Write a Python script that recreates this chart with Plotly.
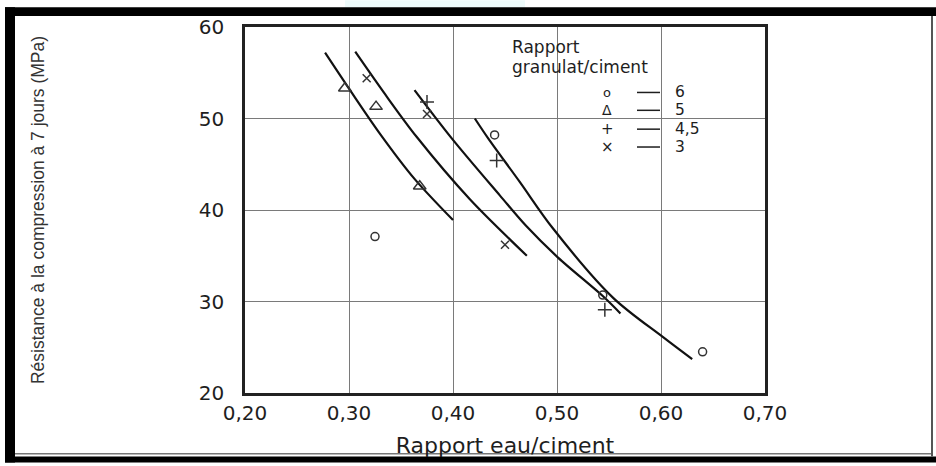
import plotly.graph_objects as go

# ---- data ----
x_ticks = [0.20, 0.30, 0.40, 0.50, 0.60, 0.70]
x_tick_text = ["0,20", "0,30", "0,40", "0,50", "0,60", "0,70"]
y_ticks = [20, 30, 40, 50, 60]
y_tick_text = ["20", "30", "40", "50", "60"]

# fitted curves (one per aggregate/cement ratio)
curve6_x = [0.421, 0.434, 0.464, 0.496, 0.554, 0.602, 0.630]
curve6_y = [50.0, 47.8, 43.1, 38.0, 30.4, 26.1, 23.7]
curve5_x = [0.277, 0.301, 0.330, 0.363, 0.400]
curve5_y = [57.2, 53.1, 48.3, 43.4, 38.9]
curve45_x = [0.363, 0.399, 0.445, 0.470, 0.501, 0.544, 0.561]
curve45_y = [53.1, 47.8, 41.6, 38.3, 34.8, 30.6, 28.7]
curve3_x = [0.306, 0.335, 0.365, 0.416, 0.471]
curve3_y = [57.3, 52.6, 48.0, 41.2, 35.0]

# measured points
pts6_x = [0.325, 0.440, 0.544, 0.640]
pts6_y = [37.1, 48.2, 30.7, 24.5]
pts5_x = [0.296, 0.326, 0.368]
pts5_y = [53.3, 51.3, 42.6]
pts45_x = [0.375, 0.442, 0.546]
pts45_y = [51.8, 45.4, 29.1]
pts3_x = [0.317, 0.375, 0.450]
pts3_y = [54.4, 50.5, 36.2]

legend_title = ["Rapport", "granulat/ciment"]
legend_symbols = ["o", "\u0394", "+", "\u00d7"]
legend_labels = ["6", "5", "4,5", "3"]

# ---- layout geometry (pixels of the 936x466 page) ----
W, H = 936, 466
L, R, T, B = 245, 171, 27, 70
PW, PH = W - L - R, H - T - B


def px(x):
    return (x - L) / PW


def py(y):
    return (H - B - y) / PH


FONT = "DejaVu Sans"
INK = "#1e1e1e"

fig = go.Figure()

for cx, cy in [(curve6_x, curve6_y), (curve5_x, curve5_y),
               (curve45_x, curve45_y), (curve3_x, curve3_y)]:
    fig.add_trace(go.Scatter(x=cx, y=cy, mode="lines",
                             line=dict(color="#111111", width=2.2, shape="spline", smoothing=0.9),
                             showlegend=False, hoverinfo="skip"))

marker_specs = [
    (pts6_x, pts6_y, "circle-open", 8),
    (pts5_x, pts5_y, "triangle-up-open", 11),
    (pts45_x, pts45_y, "cross-thin-open", 10),
    (pts3_x, pts3_y, "x-thin-open", 8),
]
for mx, my, sym, size in marker_specs:
    fig.add_trace(go.Scatter(x=mx, y=my, mode="markers",
                             marker=dict(symbol=sym, size=size, color="#333333",
                                         line=dict(color="#333333", width=1.5)),
                             showlegend=False))

shapes = []
# white patches behind the legend (interrupting the grid)
shapes.append(dict(type="rect", xref="paper", yref="paper", layer="between",
                   x0=px(505), x1=px(712), y0=py(80), y1=py(35),
                   fillcolor="white", line=dict(width=0)))
shapes.append(dict(type="rect", xref="paper", yref="paper", layer="between",
                   x0=px(587), x1=px(727), y0=py(163), y1=py(79),
                   fillcolor="white", line=dict(width=0)))
# scanned page frame
frame = [
    (345, 525, 0, 7, "#eefbfb"),
    (5, 936, 7, 16, "#000000"),
    (5, 15, 7, 466, "#000000"),
    (5, 936, 460, 466, "#000000"),
    (15, 932, 456.5, 458, "#777777"),
    (931, 933, 16, 460, "#555555"),
]
for x0, x1, y0, y1, col in frame:
    shapes.append(dict(type="rect", xref="paper", yref="paper", layer="above",
                       x0=px(x0), x1=px(x1), y0=py(y1), y1=py(y0),
                       fillcolor=col, line=dict(width=0)))

annotations = []
for i, txt in enumerate(legend_title):
    annotations.append(dict(xref="paper", yref="paper", x=px(511), y=py([47, 67][i]),
                            xanchor="left", yanchor="middle", showarrow=False, text=txt,
                            borderpad=0,
                            font=dict(family=FONT, size=17, color=INK)))
row_y = [93, 111, 130, 148]
sym_size = [13, 14, 15, 15]
for i in range(len(legend_labels)):
    annotations.append(dict(xref="paper", yref="paper", x=px(607), y=py(row_y[i]),
                            xanchor="center", yanchor="middle", showarrow=False,
                            text=legend_symbols[i], borderpad=0,
                            font=dict(family=FONT, size=sym_size[i], color=INK)))
    shapes.append(dict(type="line", xref="paper", yref="paper", layer="above",
                       x0=px(637), x1=px(660), y0=py(row_y[i]), y1=py(row_y[i]),
                       line=dict(color=INK, width=1.5)))
    annotations.append(dict(xref="paper", yref="paper", x=px(674), y=py(row_y[i]),
                            xanchor="left", yanchor="middle", showarrow=False,
                            text=legend_labels[i], borderpad=0,
                            font=dict(family=FONT, size=15.5, color=INK)))

fig.update_layout(
    width=W, height=H,
    margin=dict(l=L, r=R, t=T, b=B, pad=0),
    paper_bgcolor="white", plot_bgcolor="white",
    showlegend=False,
    shapes=shapes, annotations=annotations,
    xaxis=dict(range=[0.2, 0.7], tickvals=x_ticks, ticktext=x_tick_text,
               showgrid=True, gridcolor="#7a7a7a", gridwidth=1.2, zeroline=False,
               showline=True, linecolor="#222222", linewidth=2.5, mirror=True,
               ticks="", tickfont=dict(family=FONT, size=20, color=INK),
               title=dict(text="Rapport eau/ciment", standoff=14,
                          font=dict(family=FONT, size=22, color=INK))),
    yaxis=dict(range=[20, 60], tickvals=y_ticks, ticktext=y_tick_text,
               showgrid=True, gridcolor="#7a7a7a", gridwidth=1.2, zeroline=False,
               showline=True, linecolor="#222222", linewidth=2.5, mirror=True,
               ticks="", ticklabelstandoff=14,
               tickfont=dict(family=FONT, size=20, color=INK),
               title=dict(text="Résistance à la compression à 7 jours (MPa)", standoff=150,
                          font=dict(family="Liberation Sans", size=17.5, color="#333333"))),
)

fig.write_html("out.html")
